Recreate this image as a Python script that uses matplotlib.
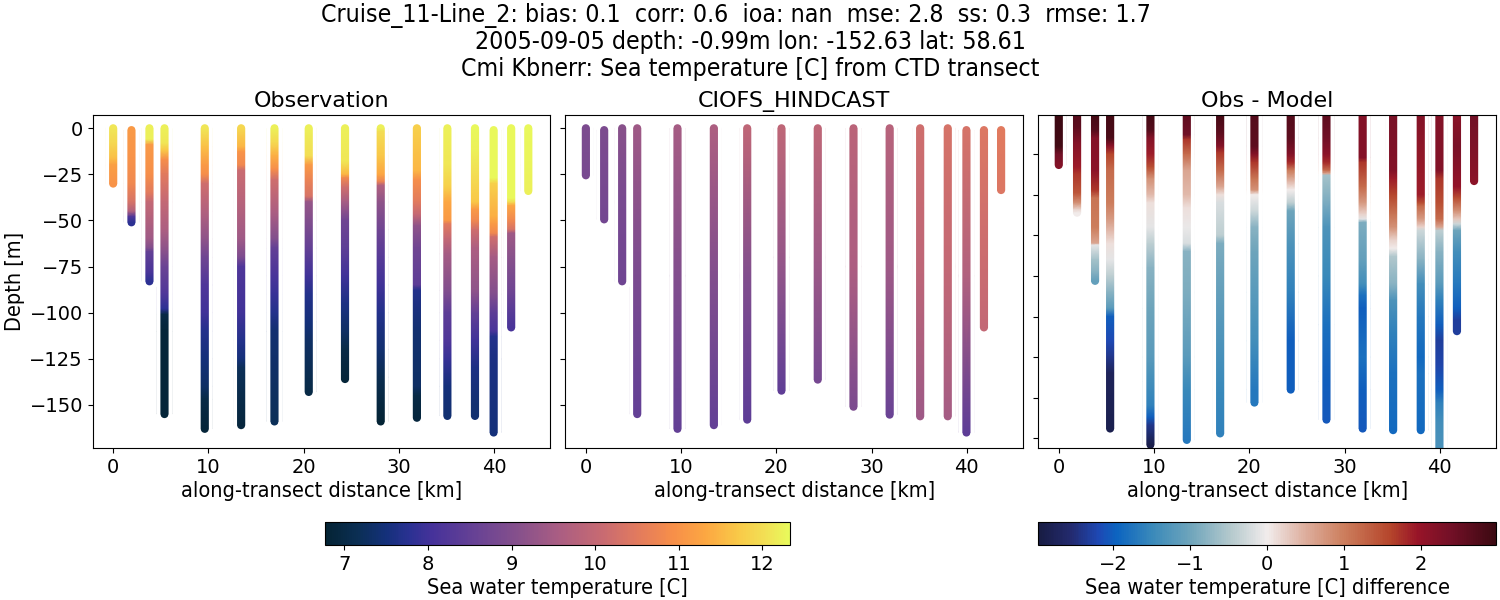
import numpy as np
import matplotlib
matplotlib.use("Agg")
import matplotlib.pyplot as plt
from matplotlib.cm import ScalarMappable
from matplotlib.colors import LinearSegmentedColormap, Normalize
from matplotlib.patches import Rectangle

distance_km = [0.0, 1.92, 3.81, 5.39, 9.62, 13.44, 16.94, 20.54, 24.35, 28.1, 31.9, 35.1, 38.0, 39.96, 41.8, 43.6]

obs_depth = [
    [0, -8, -16, -20, -30],
    [-1, -15, -30, -40, -45, -48, -51],
    [0, -6, -9, -25, -35, -40, -60, -65, -67, -78, -83],
    [0, -8, -12, -17, -25, -40, -55, -65, -75, -90, -98, -101, -110, -155],
    [0, -10, -20, -25, -30, -45, -60, -70, -85, -100, -110, -125, -140, -147, -163],
    [0, -10, -13, -20, -23, -40, -60, -70, -75, -100, -115, -125, -130, -161],
    [0, -8, -15, -22, -28, -45, -60, -65, -80, -90, -100, -110, -159],
    [0, -15, -20, -28, -37, -40, -50, -65, -80, -90, -105, -115, -143],
    [0, -18, -25, -27, -32, -40, -50, -65, -80, -95, -110, -120, -136],
    [0, -2, -15, -25, -29, -31, -40, -55, -70, -85, -100, -120, -135, -159],
    [0, -23, -28, -40, -47, -53, -65, -85, -88, -110, -140, -145, -157],
    [0, -20, -32, -40, -50, -52, -60, -68, -88, -100, -115, -125, -140, -156],
    [0, -12, -25, -40, -44, -50, -55, -65, -88, -100, -115, -130, -150, -156],
    [-1, -27, -30, -48, -52, -57, -59, -70, -90, -100, -110, -113, -125, -165],
    [0, -38, -40, -42, -50, -55, -57, -70, -88, -100, -108],
    [0, -20, -34],
]
obs_temp = [
    [12.1, 11.9, 11.6, 11.2, 11.0],
    [11.1, 11.0, 10.8, 10.3, 9.7, 8.2, 7.8],
    [12.2, 12.2, 11.1, 10.9, 10.5, 10.0, 9.4, 9.0, 8.5, 8.1, 7.8],
    [12.2, 12.1, 11.7, 10.9, 10.5, 10.0, 9.6, 9.2, 8.6, 8.2, 7.8, 7.0, 6.85, 6.85],
    [12.1, 11.6, 11.1, 10.9, 10.2, 9.7, 9.2, 8.7, 8.2, 8.0, 7.7, 7.5, 7.3, 7.0, 6.85],
    [11.9, 11.5, 11.0, 10.8, 10.1, 9.8, 9.4, 8.9, 8.2, 8.0, 7.7, 7.5, 7.2, 6.9],
    [12.2, 11.9, 11.4, 10.9, 10.2, 9.6, 9.0, 8.5, 8.1, 7.9, 7.7, 7.4, 7.2],
    [12.2, 12.0, 11.1, 10.7, 10.3, 9.3, 9.0, 8.5, 8.0, 7.7, 7.5, 7.3, 7.0],
    [12.2, 12.1, 11.5, 10.8, 10.2, 9.5, 8.7, 8.4, 8.0, 7.6, 7.3, 7.0, 6.85],
    [12.2, 12.0, 11.7, 11.3, 10.7, 9.7, 9.2, 8.7, 8.3, 8.0, 7.7, 7.4, 7.1, 6.8],
    [11.8, 11.5, 10.9, 10.5, 10.0, 9.2, 8.7, 8.4, 7.7, 7.4, 7.3, 7.0, 6.9],
    [12.2, 12.1, 11.8, 11.3, 11.1, 10.5, 10.0, 9.5, 9.0, 8.4, 8.2, 7.9, 7.5, 7.4],
    [12.3, 12.2, 12.0, 11.7, 11.1, 10.8, 10.2, 9.6, 9.2, 8.5, 8.0, 7.6, 7.4, 7.4],
    [12.3, 12.3, 11.8, 11.4, 11.1, 10.8, 10.2, 9.5, 9.0, 8.4, 8.1, 7.7, 7.6, 7.5],
    [12.3, 12.3, 12.0, 11.3, 10.8, 10.3, 9.4, 9.1, 8.7, 8.3, 8.1],
    [12.3, 12.25, 12.2],
]

model_depth = [
    [0, -25.5],
    [-1, -49.4],
    [0, -40, -83],
    [0, -75, -155],
    [0, -80, -163],
    [0, -80, -161],
    [0, -80, -158],
    [0, -70, -142.3],
    [0, -70, -136.3],
    [0, -75, -151],
    [0, -75, -155.3],
    [0, -75, -156.2],
    [0, -75, -156.2],
    [-1, -80, -165],
    [-1, -55, -108],
    [-1, -33.5],
]
model_temp = [
    [8.9, 8.85],
    [8.9, 8.75],
    [9.1, 8.85, 8.7],
    [9.4, 8.9, 8.5],
    [9.5, 9.0, 8.5],
    [9.6, 9.0, 8.5],
    [9.9, 9.0, 8.4],
    [9.9, 9.3, 8.45],
    [9.9, 9.4, 8.8],
    [9.85, 9.6, 8.9],
    [9.8, 9.4, 8.6],
    [10.2, 9.9, 9.4],
    [10.3, 10.0, 9.5],
    [10.3, 9.7, 8.4],
    [10.4, 10.2, 10.0],
    [10.5, 10.4],
]

diff_y = [
    [0, -20, -25, -31.6],
    [0, -8, -18, -33, -37, -49, -55, -59, -61],
    [0, -10, -15, -35, -47, -52, -70, -80, -81, -90, -97, -103],
    [0, -15, -20, -25, -35, -55, -65, -72, -80, -90, -100, -110, -120, -125, -140, -150, -160, -194],
    [0, -10, -15, -25, -33, -40, -50, -55, -70, -80, -95, -120, -150, -165, -180, -187, -192, -204],
    [0, -13, -16, -25, -35, -50, -58, -70, -80, -85, -110, -150, -170, -201],
    [0, -12, -20, -24, -35, -45, -50, -55, -75, -80, -110, -140, -170, -197],
    [0, -20, -25, -30, -40, -47, -50, -60, -70, -85, -110, -140, -170, -178],
    [0, -15, -25, -30, -35, -42, -47, -55, -60, -80, -110, -140, -170],
    [0, -15, -25, -30, -35, -37, -38, -50, -70, -100, -130, -165, -188.5],
    [0, -27, -30, -45, -55, -62, -65, -67, -90, -105, -112, -120, -150, -170, -194],
    [0, -35, -40, -50, -62, -70, -78, -83, -88, -105, -115, -135, -160, -195],
    [0, -50, -55, -57, -65, -70, -72, -90, -105, -125, -150, -160, -195],
    [0, -35, -40, -55, -65, -70, -72, -85, -105, -115, -130, -140, -155, -170, -178, -190, -215],
    [0, -20, -45, -52, -60, -65, -68, -72, -85, -105, -120, -127, -134],
    [0, -30, -41.5],
]
diff_val = [
    [2.95, 2.9, 2.4, 2.2],
    [2.7, 2.6, 2.2, 1.9, 1.7, 1.4, 0.8, 0.2, 0.0],
    [2.9, 2.7, 2.2, 2.1, 1.7, 1.1, 1.0, 0.6, -0.1, -0.6, -0.8, -1.1],
    [2.9, 2.8, 2.1, 1.6, 1.2, 1.0, 0.7, 0.4, 0.1, -0.1, -0.4, -0.8, -1.2, -2.0, -2.2, -2.4, -2.75, -2.85],
    [2.9, 2.7, 2.2, 1.9, 1.5, 0.8, 0.4, 0.1, -0.1, -0.4, -0.8, -1.0, -1.2, -1.4, -1.6, -2.0, -2.4, -2.9],
    [2.6, 2.4, 1.7, 1.2, 0.6, 0.4, 0.1, -0.05, -0.2, -0.8, -0.9, -1.2, -1.5, -1.7],
    [2.9, 2.6, 2.2, 1.7, 1.2, 0.6, 0.1, -0.2, -0.4, -0.9, -1.1, -1.3, -1.5, -1.6],
    [2.7, 2.6, 2.2, 1.7, 1.1, 0.8, 0.0, -0.3, -0.8, -1.0, -1.2, -1.4, -1.7, -1.7],
    [2.7, 2.6, 2.2, 1.8, 1.0, 0.4, 0.0, -0.4, -1.0, -1.3, -1.6, -2.0, -2.0],
    [2.6, 2.4, 2.1, 1.8, 1.2, 0.6, -0.6, -0.8, -1.3, -1.5, -1.8, -2.0, -2.05],
    [2.2, 2.2, 1.7, 1.2, 0.7, 0.2, -0.1, -0.9, -1.1, -1.4, -1.8, -2.0, -1.8, -2.0, -2.05],
    [2.3, 2.2, 1.9, 1.6, 1.1, 0.8, 0.2, 0.0, -0.5, -0.8, -1.3, -1.6, -1.8, -1.9],
    [2.2, 1.9, 1.5, 1.2, 0.7, 0.2, -0.3, -0.8, -1.4, -1.7, -1.9, -1.8, -1.9],
    [2.2, 2.2, 1.7, 1.5, 1.2, 0.6, -0.4, -0.8, -1.2, -1.6, -2.0, -2.3, -2.25, -2.0, -1.6, -1.4, -1.3],
    [2.1, 2.3, 2.0, 1.5, 0.8, 0.3, -0.3, -1.0, -1.4, -1.7, -2.0, -2.3, -2.3],
    [2.4, 2.2, 2.1],
]

thermal = LinearSegmentedColormap.from_list("thermal", [
    (0.00, "#042333"), (0.07, "#0b2f55"), (0.13, "#14307a"), (0.18, "#2a3192"),
    (0.23, "#46329a"), (0.33, "#6a4394"), (0.42, "#88518b"), (0.50, "#a95d83"),
    (0.60, "#c96b71"), (0.68, "#e47c5c"), (0.75, "#f78f49"), (0.82, "#fca742"),
    (0.89, "#f9c948"), (0.95, "#f2e055"), (1.00, "#e8fa5b")], N=256)
balance = LinearSegmentedColormap.from_list("balance", [
    (0.00, "#181c43"), (0.07, "#232a6e"), (0.13, "#1e48b4"), (0.17, "#0c64c0"),
    (0.25, "#3b8aba"), (0.33, "#6da4bb"), (0.42, "#b4c9cd"), (0.50, "#f1ecec"),
    (0.58, "#deb0a0"), (0.67, "#cc7d5c"), (0.77, "#b5452b"), (0.83, "#981428"),
    (0.90, "#741027"), (1.00, "#3c0912")], N=256)

temp_norm = Normalize(6.77, 12.33)
diff_norm = Normalize(-2.97, 2.97)

W, H = 1500, 600
plt.rcParams["font.family"] = "DejaVu Sans"
fig = plt.figure(figsize=(15, 6), dpi=100)


def box(left, top, right, bottom):
    return [left / W, 1 - bottom / H, (right - left) / W, (bottom - top) / H]


ax1 = fig.add_axes(box(92.7, 115, 550.2, 448))
ax2 = fig.add_axes(box(565.4, 115, 1023, 448))
ax3 = fig.add_axes(box(1038.3, 115, 1496, 448))


def draw_casts(ax, depths, values, cmap, norm, ylim):
    half = 0.43
    wide = 0.75
    for x, d, v in zip(distance_km, depths, values):
        d = np.asarray(d, float)
        v = np.asarray(v, float)
        X = np.column_stack([np.full(d.size, x - wide), np.full(d.size, x + wide)])
        Y = np.column_stack([d, d])
        C = np.column_stack([v, v])
        ax.pcolormesh(X, Y, C, shading="gouraud", cmap=cmap, norm=norm, zorder=2)
        ax.scatter([x, x], [d[0], d[-1]], c=[v[0], v[-1]], s=34, linewidths=0,
                   cmap=cmap, norm=norm, zorder=1)
        # trim the gradient strip to a clean antialiased width
        for left in (x - wide - 0.1, x + half):
            ax.add_patch(Rectangle((left, d.min() - 3), wide + 0.1 - half,
                                   d.max() - d.min() + 6, fc="white", ec="none",
                                   snap=False, zorder=2.2))
    ax.set_ylim(*ylim)
    ax.set_xlim(-2.15, 45.9)


draw_casts(ax1, obs_depth, obs_temp, thermal, temp_norm, (-173.4, 7.2))
draw_casts(ax2, model_depth, model_temp, thermal, temp_norm, (-173.4, 7.2))
draw_casts(ax3, diff_y, diff_val, balance, diff_norm, (-206, -0.8))

LABEL = dict(fontsize=15.6, stretch="condensed")

for ax, title in zip((ax1, ax2, ax3), ("Observation", "CIOFS_HINDCAST", "Obs - Model")):
    ax.set_xticks([0, 10, 20, 30, 40])
    ax.tick_params(labelsize=14)
    ax.set_xlabel("along-transect distance [km]", labelpad=3, **LABEL)
    ax.set_title(title, fontsize=16, pad=6)

for ax in (ax1, ax2):
    ax.set_yticks([0, -25, -50, -75, -100, -125, -150])
ax1.set_yticklabels(["0", "\u221225", "\u221250", "\u221275", "\u2212100", "\u2212125", "\u2212150"])
ax1.set_ylabel("Depth [m]", labelpad=3, **LABEL)
ax2.set_yticklabels([])
ax3.set_yticks([-25, -50, -75, -100, -125, -150, -175, -200])
ax3.set_yticklabels([])

cax1 = fig.add_axes(box(325, 522.3, 790, 545.3))
cax2 = fig.add_axes(box(1038.3, 522.3, 1496, 545.3))
cb1 = fig.colorbar(ScalarMappable(temp_norm, thermal), cax=cax1, orientation="horizontal")
cb2 = fig.colorbar(ScalarMappable(diff_norm, balance), cax=cax2, orientation="horizontal")
cb1.set_ticks([7, 8, 9, 10, 11, 12])
cb2.set_ticks([-2, -1, 0, 1, 2])
cb1.ax.tick_params(labelsize=14)
cb2.ax.tick_params(labelsize=14)
cb1.set_label("Sea water temperature [C]", labelpad=3, **LABEL)
cb2.set_label("Sea water temperature [C] difference", labelpad=3, **LABEL)

fig.suptitle(
    "Cruise_11-Line_2: bias: 0.1  corr: 0.6  ioa: nan  mse: 2.8  ss: 0.3  rmse: 1.7    \n"
    "2005-09-05 depth: -0.99m lon: -152.63 lat: 58.61\n"
    "Cmi Kbnerr: Sea temperature [C] from CTD transect",
    fontsize=17.8, stretch="condensed", linespacing=1.13, x=0.5, y=0.995, va="top")

fig.savefig("out.png", dpi=100)
